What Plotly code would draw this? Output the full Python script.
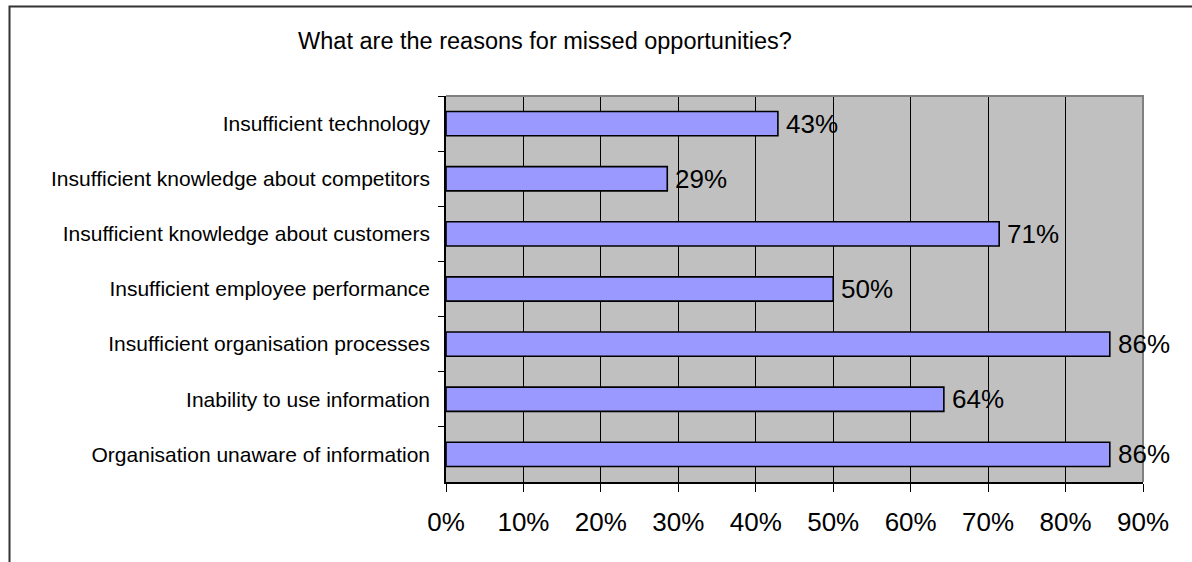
import plotly.graph_objects as go

# Survey results: share of respondents naming each reason
categories = [
    "Insufficient technology",
    "Insufficient knowledge about competitors",
    "Insufficient knowledge about customers",
    "Insufficient employee performance",
    "Insufficient organisation processes",
    "Inability to use information",
    "Organisation unaware of information",
]
shares = [6 / 14, 4 / 14, 10 / 14, 7 / 14, 12 / 14, 9 / 14, 12 / 14]

x_ticks = [0, 0.1, 0.2, 0.3, 0.4, 0.5, 0.6, 0.7, 0.8, 0.9]
x_tick_labels = ["0%", "10%", "20%", "30%", "40%", "50%", "60%", "70%", "80%", "90%"]

title_text = "What are the reasons for missed opportunities?"

FONT = "Arial, Liberation Sans, sans-serif"

fig = go.Figure(
    go.Bar(
        x=shares,
        y=categories,
        orientation="h",
        marker=dict(color="#9999FF", line=dict(color="#000000", width=1.6)),
        hoverinfo="skip",
    )
)

# Value labels just past the end of each bar
for cat, val in zip(categories, shares):
    fig.add_annotation(
        x=val,
        y=cat,
        xref="x",
        yref="y",
        text=f"{val:.0%}",
        showarrow=False,
        xanchor="left",
        yanchor="middle",
        xshift=6,
        font=dict(family=FONT, size=26, color="#000000"),
    )

fig.update_layout(
    width=1192,
    height=562,
    margin=dict(l=446, r=49, t=96, b=80),
    paper_bgcolor="#FFFFFF",
    plot_bgcolor="#C0C0C0",
    bargap=0.56,
    showlegend=False,
    title=dict(
        text=title_text,
        font=dict(family=FONT, size=23.5, color="#000000"),
        xref="container",
        yref="container",
        x=545 / 1192,
        y=1 - 41 / 562,
        xanchor="center",
        yanchor="middle",
    ),
)

fig.update_xaxes(
    range=[0, 0.9],
    tickvals=x_ticks,
    ticktext=x_tick_labels,
    tickfont=dict(family=FONT, size=26, color="#000000"),
    ticks="outside",
    ticklen=8,
    tickcolor="#000000",
    tickwidth=1,
    ticklabelstandoff=8,
    showgrid=True,
    gridcolor="#000000",
    gridwidth=1,
    showline=True,
    linecolor="#000000",
    linewidth=1.5,
    zeroline=False,
    fixedrange=True,
)

fig.update_yaxes(
    autorange="reversed",
    tickfont=dict(family=FONT, size=21, color="#000000"),
    ticks="outside",
    tickson="boundaries",
    ticklen=6,
    tickcolor="#000000",
    tickwidth=1,
    ticklabelstandoff=10,
    showgrid=False,
    showline=True,
    linecolor="#000000",
    linewidth=1.5,
    fixedrange=True,
)

# Gray top and right edges of the plotting area
fig.add_shape(
    type="path",
    xref="x domain",
    yref="y domain",
    path="M 0 1 L 1 1 L 1 0",
    line=dict(color="#808080", width=2),
    layer="above",
)

# Chart frame: left and top edges (the rest runs off the page)
fx0 = (9.5 - 446) / 697
fy1 = (482 - 6.5) / 386
fig.add_shape(
    type="path",
    xref="paper",
    yref="paper",
    path=f"M {fx0} -0.6 L {fx0} {fy1} L 1.2 {fy1}",
    line=dict(color="#333333", width=2),
    layer="below",
)

fig.write_html("out.html", config={"displayModeBar": False})
